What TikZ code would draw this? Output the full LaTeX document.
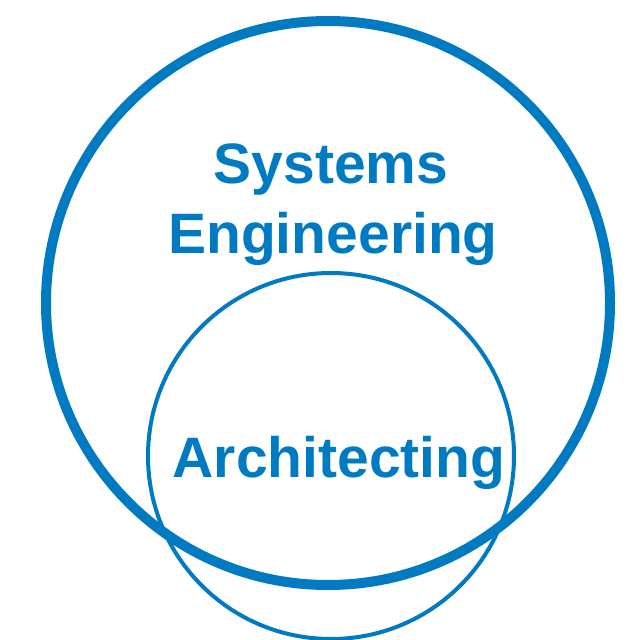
\documentclass[tikz,border=0pt]{standalone}
\usepackage{fontspec}
\setmainfont{Liberation Sans}
\usetikzlibrary{positioning}
\definecolor{seblue}{RGB}{0,123,194}

\begin{document}
\begin{tikzpicture}
        [
            x = 1pt, y = -1pt,
            set/.style = {
                draw=seblue, circle, inner sep=0pt},
            bigset/.style = {set, line width=10pt, minimum size=564pt},
            smallset/.style = {set, line width=4pt, minimum size=366pt},
            title/.style = {text=seblue, font=\fontsize{57pt}{68pt}\selectfont\bfseries,
                anchor=base, inner sep=0pt}
        ]
        \useasboundingbox (0,0) rectangle (637,640);
        \node [bigset] (SE) at (328,303) {};
        \node [smallset] (Arch) at (331,456) {};
        \node [title] (Sys) at (331,183) {Systems};
        \node [title] (Eng) at (333,253) {Engineering};
        \node [title] (ArchText) at (339,477) {Architecting};
    \end{tikzpicture}
\end{document}
